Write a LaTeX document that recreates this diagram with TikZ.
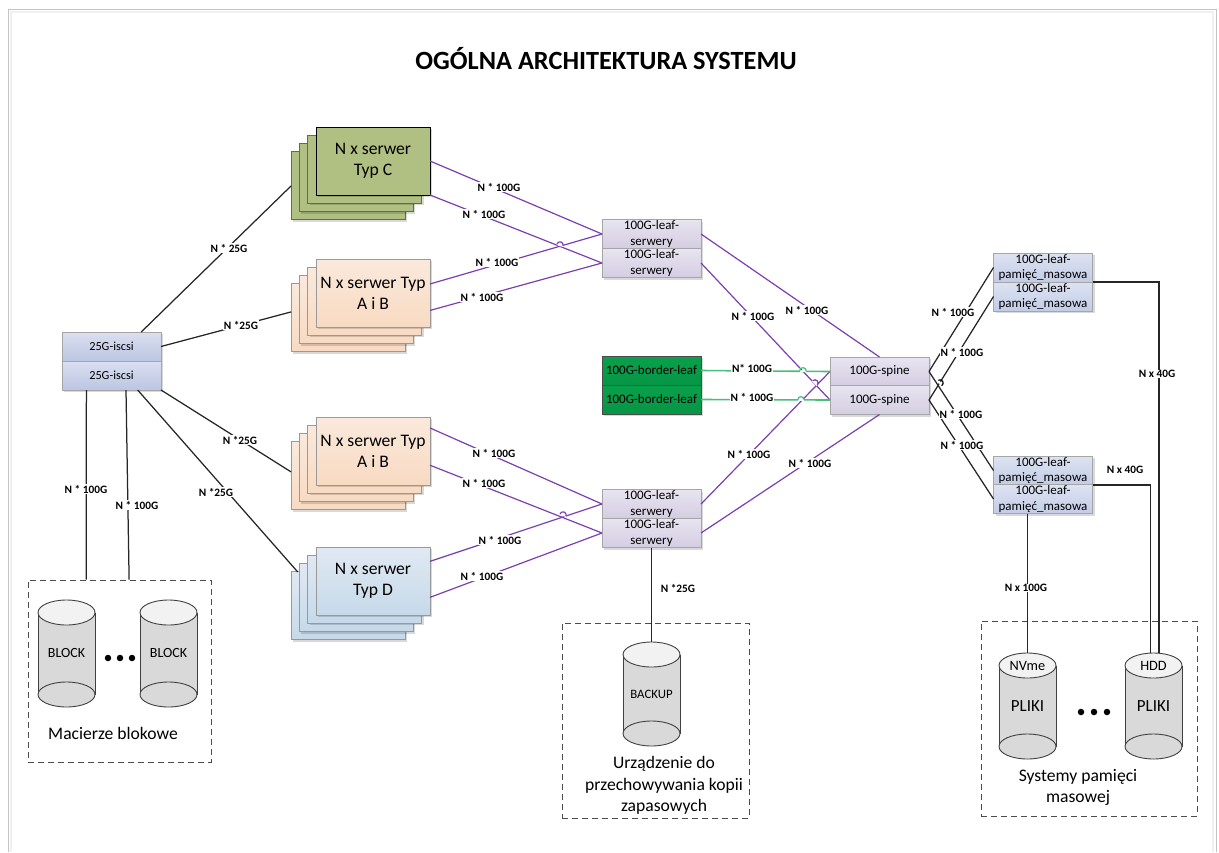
\documentclass[tikz,border=0pt]{standalone}
\usepackage{fontspec}
\setmainfont{Carlito}
\usetikzlibrary{shadows}

\definecolor{wire}{HTML}{7B3FB0}
\definecolor{wiregreen}{HTML}{45C07C}
\definecolor{drumbody}{HTML}{D9D9D9}
\definecolor{drumtop}{HTML}{F2F2F2}
\definecolor{frameline}{HTML}{C4C4C4}

\tikzset{
  sw/.style={minimum width=99pt,minimum height=29pt,inner sep=0pt,outer sep=0pt,align=center,
    font=\fontsize{13}{15.5}\selectfont,draw=black!35,line width=.8pt,
    drop shadow={shadow xshift=2pt,shadow yshift=-2pt,opacity=.15,fill=black}},
  swiscsi/.style={sw,font=\fontsize{12.3}{15}\selectfont,top color={rgb,255:red,218;green,223;blue,240},bottom color={rgb,255:red,188;green,198;blue,226}},
  swleaf/.style={sw,top color={rgb,255:red,232;green,228;blue,240},bottom color={rgb,255:red,212;green,205;blue,226}},
  swstore/.style={sw,top color={rgb,255:red,222;green,227;blue,242},bottom color={rgb,255:red,194;green,204;blue,230}},
  swgreen/.style={sw,draw=black!70,top color={rgb,255:red,10;green,160;blue,75},bottom color={rgb,255:red,5;green,150;blue,70}},
  srv/.style={minimum width=114pt,minimum height=68pt,inner sep=0pt,outer sep=0pt,align=center,
    font=\fontsize{17.6}{21.3}\selectfont,line width=.9pt,execute at begin node={\rule{0pt}{17pt}},
    drop shadow={shadow xshift=2pt,shadow yshift=-2pt,opacity=.15,fill=black}},
  srvc/.style={srv,fill={rgb,255:red,176;green,191;blue,130},draw=black!60},
  srvab/.style={srv,draw=black!40,top color={rgb,255:red,250;green,233;blue,220},bottom color={rgb,255:red,248;green,218;blue,194}},
  srvd/.style={srv,draw=black!40,top color={rgb,255:red,224;green,233;blue,243},bottom color={rgb,255:red,198;green,217;blue,233}},
  lnk/.style={line width=1.2pt,wire},
  lnkgreen/.style={line width=1.6pt,wiregreen},
  lnkblack/.style={line width=1.25pt,black!85},
  lbl/.style={fill=white,inner sep=.6pt,font=\fontsize{11.3}{12}\selectfont\bfseries},
  dashbox/.style={draw=black!70,dashed,line width=.9pt,dash pattern=on 6pt off 4pt,inner sep=0pt},
  caption/.style={font=\fontsize{17.6}{21.3}\selectfont,align=center},
  dot/.style={circle,fill=black,minimum size=6.5pt,inner sep=0pt}
}

% name, x, top, width, height
\newcommand{\drum}[5]{
  \node[minimum width=#4pt,minimum height=#5pt,inner sep=0pt,outer sep=0pt] (#1) at (#2,#3+#5/2) {};
  \fill[drumbody] (#2-#4/2,#3+12.5) -- (#2-#4/2,#3+#5-12.5) arc[start angle=180,end angle=360,x radius=#4/2*1pt,y radius=12.5pt]
    -- (#2+#4/2,#3+12.5) -- cycle;
  \draw[line width=.9pt,black!75] (#2-#4/2,#3+12.5) -- (#2-#4/2,#3+#5-12.5);
  \draw[line width=.9pt,black!75] (#2+#4/2,#3+12.5) -- (#2+#4/2,#3+#5-12.5);
  \draw[line width=.9pt,black!75,fill=drumtop] (#2,#3+12.5) ellipse[x radius=#4/2*1pt,y radius=12.5pt];
  \draw[line width=.9pt,black!75,fill=drumbody] (#2,#3+#5-12.5) ellipse[x radius=#4/2*1pt,y radius=12.5pt];
}
% x, y, angle, colour
\newcommand{\hopmark}[4]{
  \begin{scope}[shift={(#1,#2)},rotate=#3]
    \draw[white,line width=2pt] (-3.2pt,0) -- (3.2pt,0);
    \draw[#4,line width=1.2pt] (-3.2pt,0) arc[start angle=180,end angle=0,radius=3.2pt];
  \end{scope}
}

\begin{document}
\begin{tikzpicture}[x=1pt,y=-1pt]
\useasboundingbox (0,0) rectangle (1219,852);
\draw[black!6,line width=1.5pt] (11,852) -- (11,12) -- (1213,12) -- (1213,852);
\draw[frameline,line width=1pt] (8,852) -- (8,9) -- (1216,9) -- (1216,852);

\node[font=\fontsize{26.3}{30}\selectfont\bfseries] (title) at (606,59) {OGÓLNA ARCHITEKTURA SYSTEMU};

% serwery
\foreach \i in {3,2,1}{
  \node[srvc] (typC\i) at ({373-8.3*\i},{161+8.3*\i}) {};
  \node[srvab] (abA\i) at ({373-8.3*\i},{293+8.3*\i}) {};
  \node[srvab] (abB\i) at ({373-8.3*\i},{451+8.3*\i}) {};
  \node[srvd] (typD\i) at ({373-8.3*\i},{581+8.3*\i}) {};
}
\node[srvc,draw=black] (typC) at (373,161) {N x serwer\\Typ C};
\node[srvab] (abA) at (373,293) {N x serwer Typ\\A i B};
\node[srvab] (abB) at (373,451) {N x serwer Typ\\A i B};
\node[srvd] (typD) at (373,581) {N x serwer\\Typ D};

% przelaczniki
\node[swiscsi] (iscsiA) at (111.5,346.5) {25G-iscsi};
\node[swiscsi] (iscsiB) at (111.5,375.5) {25G-iscsi};
\node[swleaf] (leafA) at (651.5,234) {100G-leaf-\\serwery};
\node[swleaf] (leafB) at (651.5,263) {100G-leaf-\\serwery};
\node[swleaf] (leafC) at (651.5,504) {100G-leaf-\\serwery};
\node[swleaf] (leafD) at (651.5,533) {100G-leaf-\\serwery};
\node[swgreen] (borderA) at (651.5,370.5) {100G-border-leaf};
\node[swgreen] (borderB) at (651.5,399.5) {100G-border-leaf};
\node[swleaf] (spineA) at (879.5,371.5) {100G-spine};
\node[swleaf] (spineB) at (879.5,400) {100G-spine};
\node[swstore] (pamA) at (1043,267.5) {100G-leaf-\\pamięć\_masowa};
\node[swstore] (pamB) at (1043,296.5) {100G-leaf-\\pamięć\_masowa};
\node[swstore] (pamC) at (1043,470.5) {100G-leaf-\\pamięć\_masowa};
\node[swstore] (pamD) at (1043,499) {100G-leaf-\\pamięć\_masowa};

% macierze
\node[dashbox,minimum width=183pt,minimum height=182pt] (boxBlock) at (119.5,671) {};
\drum{blockA}{66.5}{600}{57}{107}
\drum{blockB}{168.5}{600}{57}{107}
\node[font=\fontsize{14}{15}\selectfont] (txtBlockA) at (66.5,653) {BLOCK};
\node[font=\fontsize{14}{15}\selectfont] (txtBlockB) at (168.5,653) {BLOCK};
\node[dot] (dotA) at (108,658) {};
\node[dot] (dotB) at (120,658) {};
\node[dot] (dotC) at (132,658) {};
\node[caption] (capBlock) at (113,733) {Macierze blokowe};

\node[dashbox,minimum width=187pt,minimum height=195pt] (boxBackup) at (655.5,720.5) {};
\drum{backup}{651.5}{642}{57}{104}
\node[font=\fontsize{12.8}{14}\selectfont] (txtBackup) at (651.5,694) {BACKUP};
\node[caption] (capBackup) at (664,785.5) {Urządzenie do\\przechowywania kopii\\zapasowych};

\node[dashbox,minimum width=216pt,minimum height=195pt] (boxFiles) at (1089,718.5) {};
\drum{nvme}{1027.5}{653}{57}{106}
\drum{hdd}{1153.5}{653}{57}{106}
\node[font=\fontsize{14.3}{15}\selectfont] (txtNvme) at (1027.5,666) {NVme};
\node[font=\fontsize{14.3}{15}\selectfont] (txtHdd) at (1153.5,666) {HDD};
\node[font=\fontsize{17}{18}\selectfont] (txtNvmeB) at (1027.5,706) {PLIKI};
\node[font=\fontsize{17}{18}\selectfont] (txtHddB) at (1153.5,706) {PLIKI};
\node[dot] (dotD) at (1081,712) {};
\node[dot] (dotE) at (1094,712) {};
\node[dot] (dotF) at (1107,712) {};
\node[caption] (capFiles) at (1078,787.5) {Systemy pamięci\\masowej};

% polaczenia iscsi
\draw[lnkblack] (iscsiA.26) -- (typC3.west);
\draw[lnkblack] (iscsiA.east) -- (abA3.174);
\draw[lnkblack] (iscsiB.south east) -- (abB3.176);
\draw[lnkblack] (iscsiB.-29.6) -- (typD3.146);
\draw[lnkblack] (iscsiB.-150.4) -- (boxBlock.110.2);
\draw[lnkblack] (iscsiB.-45) -- (boxBlock.84.7);

% serwery - leaf
\draw[lnk] (typC.east) -- (leafA.west);
\draw[lnk] (typC.south east) -- (leafB.west);
\draw[lnk] (abA.9) -- (leafA.west);
\draw[lnk] (abA.-17.5) -- (leafB.west);
\draw[lnk] (abB.22) -- (leafC.west);
\draw[lnk] (abB.-14) -- (leafD.west);
\draw[lnk] (typD.19) -- (leafC.west);
\draw[lnk] (typD.-16) -- (leafD.west);
\hopmark{560}{245}{-16.5}{wire}
\hopmark{563}{515}{-17}{wire}

% leaf - spine
\draw[lnk] (leafA.east) -- (spineA.north);
\draw[lnk] (leafB.east) -- (spineB.west);
\draw[lnk] (leafC.east) -- (spineA.west);
\draw[lnk] (leafD.east) -- (spineB.south);
\hopmark{815}{383}{-46}{wire}
\draw[lnkgreen] (borderA.east) -- (spineA.west);
\draw[lnkgreen] (borderB.east) -- (spineB.west);
\hopmark{803}{370.8}{0}{wiregreen}
\hopmark{801}{399.8}{0}{wiregreen}

% spine - pamiec
\draw[lnkblack] (spineA.east) -- (pamA.west);
\draw[lnkblack] (spineB.east) -- (pamB.west);
\draw[lnkblack] (spineA.east) -- (pamC.west);
\draw[lnkblack] (spineB.east) -- (pamD.west);
\hopmark{940}{383}{-58}{black}

% do urzadzen
\draw[lnkblack] (pamA.south east) -| (hdd.84);
\draw[lnkblack] (pamC.south east) -| (hdd.93);
\draw[lnkblack] (pamD.south -| nvme.north) -- (nvme.north);
\draw[lnkblack] (leafD.south) -- (backup.north);

% etykiety
\node[lbl] (l1) at (229,248) {N * 25G};
\node[lbl] (l2) at (241,325) {N *25G};
\node[lbl] (l3) at (240,440) {N *25G};
\node[lbl] (l4) at (216,492) {N *25G};
\node[lbl] (l5) at (86,489) {N * 100G};
\node[lbl] (l6) at (137,505) {N * 100G};
\node[lbl] (l7) at (499,187) {N * 100G};
\node[lbl] (l8) at (484,214) {N * 100G};
\node[lbl] (l9) at (497,262) {N * 100G};
\node[lbl] (l10) at (482,297) {N * 100G};
\node[lbl] (l11) at (494,453) {N * 100G};
\node[lbl] (l12) at (484,483) {N * 100G};
\node[lbl] (l13) at (500,540) {N * 100G};
\node[lbl] (l14) at (482,576) {N * 100G};
\node[lbl] (l15) at (807,310) {N * 100G};
\node[lbl] (l16) at (753,316) {N * 100G};
\node[lbl] (l17) at (749,454) {N * 100G};
\node[lbl] (l18) at (810,463) {N * 100G};
\node[lbl] (l19) at (752,368) {N* 100G};
\node[lbl] (l20) at (752,397) {N * 100G};
\node[lbl] (l21) at (953,312) {N * 100G};
\node[lbl] (l22) at (962,352) {N * 100G};
\node[lbl] (l23) at (961,414) {N * 100G};
\node[lbl] (l24) at (962,445) {N * 100G};
\node[lbl] (l25) at (1157,374) {N x 40G};
\node[lbl] (l26) at (1125,470) {N x 40G};
\node[lbl] (l27) at (1026,588) {N x 100G};
\node[lbl] (l28) at (678,588) {N *25G};
\end{tikzpicture}
\end{document}
